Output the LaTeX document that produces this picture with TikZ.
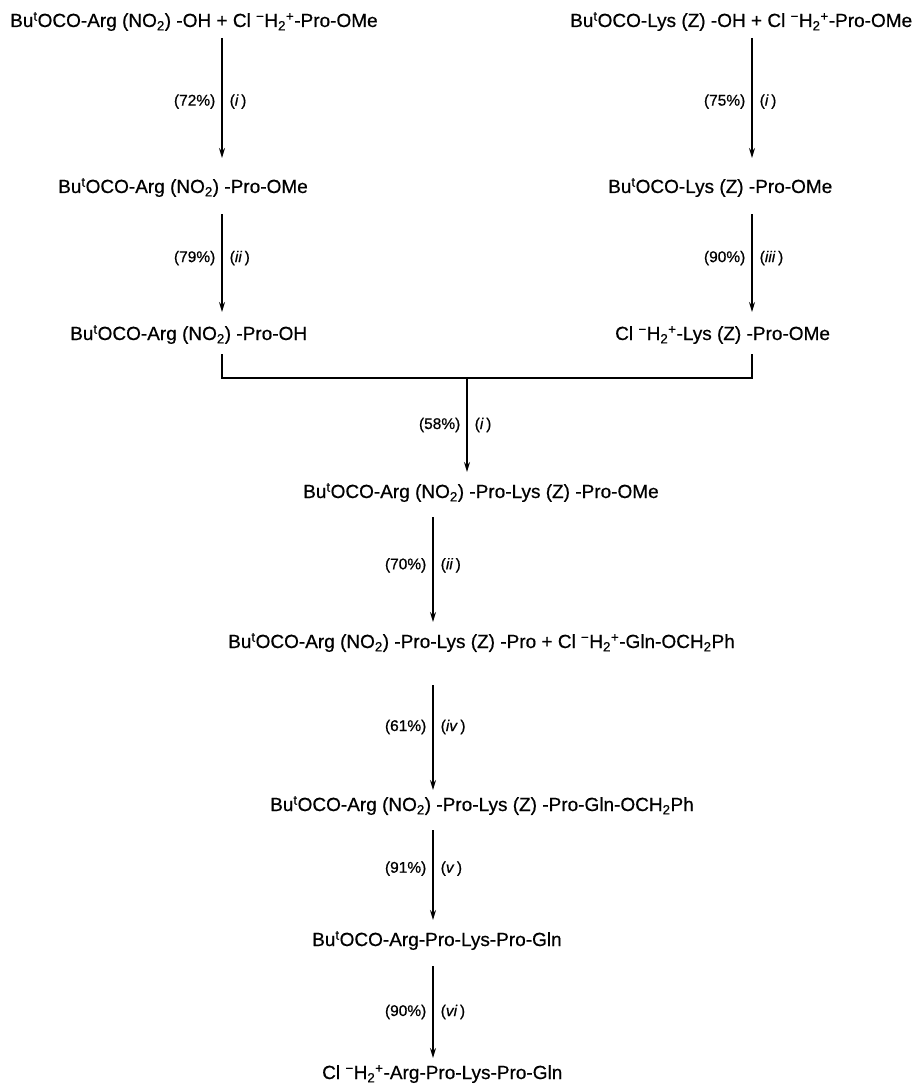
\documentclass[tikz,border=0pt]{standalone}
\usepackage{fontspec}
\setmainfont{Liberation Sans}[FakeBold=0.6]
\usetikzlibrary{arrows.meta}
\newcommand{\But}{Bu\textsuperscript{t}OCO}
\newcommand{\ClH}{Cl \textsuperscript{\char"2212}H\textsubscript{2}\textsuperscript{+}}
\newcommand{\NOt}{(NO\textsubscript{2})}
\begin{document}
\begin{tikzpicture}[x=1pt,y=-1pt,
  chem/.style={inner sep=0pt,anchor=base west,font=\fontsize{19}{22}\selectfont},
  arr/.style={line width=1.4pt,-{Stealth[length=10pt,width=6pt]}},
  brk/.style={line width=1.4pt},
  pct/.style={inner sep=0pt,anchor=east,xshift=-6pt,font=\fontsize{15.5}{18}\selectfont},
  cond/.style={inner sep=0pt,anchor=west,xshift=7pt,font=\fontsize{15.5}{18}\selectfont}]
\useasboundingbox (0,0) rectangle (914,1086);
% compounds
\node[chem] (T1) at (10,27) {\But-Arg \NOt{} -OH + \ClH-Pro-OMe};
\node[chem] (T2) at (570,27) {\But-Lys (Z) -OH + \ClH-Pro-OMe};
\node[chem] (T3) at (58,193) {\But-Arg \NOt{} -Pro-OMe};
\node[chem] (T4) at (608,193) {\But-Lys (Z) -Pro-OMe};
\node[chem] (T5) at (70,340) {\But-Arg \NOt{} -Pro-OH};
\node[chem] (T6) at (615,340) {\ClH-Lys (Z) -Pro-OMe};
\node[chem] (T7) at (303,498) {\But-Arg \NOt{} -Pro-Lys (Z) -Pro-OMe};
\node[chem] (T8) at (228,648) {\But-Arg \NOt{} -Pro-Lys (Z) -Pro + \ClH-Gln-OCH\textsubscript{2}Ph};
\node[chem] (T9) at (270,811) {\But-Arg \NOt{} -Pro-Lys (Z) -Pro-Gln-OCH\textsubscript{2}Ph};
\node[chem] (T10) at (312,946) {\But-Arg-Pro-Lys-Pro-Gln};
\node[chem] (T11) at (322,1079) {\ClH-Arg-Pro-Lys-Pro-Gln};
% arrow ends
\coordinate (a1s) at (222,38);  \coordinate (a1e) at (222,158);
\coordinate (b1s) at (752,38);  \coordinate (b1e) at (752,158);
\coordinate (a2s) at (222,214); \coordinate (a2e) at (222,312);
\coordinate (b2s) at (752,214); \coordinate (b2e) at (752,312);
\coordinate (bl) at (222,354);  \coordinate (blc) at (222,378);
\coordinate (br) at (752,354);  \coordinate (brc) at (752,378);
\coordinate (c1s) at (467,378); \coordinate (c1e) at (467,472);
\coordinate (c2s) at (433,517); \coordinate (c2e) at (433,622);
\coordinate (c3s) at (433,685); \coordinate (c3e) at (433,790);
\coordinate (c4s) at (433,830); \coordinate (c4e) at (433,920);
\coordinate (c5s) at (433,966); \coordinate (c5e) at (433,1058);
% arrows
\draw[arr] (a1s) -- node[pct,pos=0.53]{(72\%)} node[cond,pos=0.53]{(\textit{i}\,)} (a1e);
\draw[arr] (b1s) -- node[pct,pos=0.53]{(75\%)} node[cond,pos=0.53]{(\textit{i}\,)} (b1e);
\draw[arr] (a2s) -- node[pct,pos=0.45]{(79\%)} node[cond,pos=0.45]{(\textit{ii}\,)} (a2e);
\draw[arr] (b2s) -- node[pct,pos=0.45]{(90\%)} node[cond,pos=0.45]{(\textit{iii}\,)} (b2e);
\draw[brk] (bl) -- (blc) -- (brc) -- (br);
\draw[arr] (c1s) -- node[pct,pos=0.5]{(58\%)} node[cond,pos=0.5]{(\textit{i}\,)} (c1e);
\draw[arr] (c2s) -- node[pct,pos=0.46]{(70\%)} node[cond,pos=0.46]{(\textit{ii}\,)} (c2e);
\draw[arr] (c3s) -- node[pct,pos=0.4]{(61\%)} node[cond,pos=0.4]{(\textit{iv}\,)} (c3e);
\draw[arr] (c4s) -- node[pct,pos=0.43]{(91\%)} node[cond,pos=0.43]{(\textit{v}\,)} (c4e);
\draw[arr] (c5s) -- node[pct,pos=0.5]{(90\%)} node[cond,pos=0.5]{(\textit{vi}\,)} (c5e);
\end{tikzpicture}
\end{document}
